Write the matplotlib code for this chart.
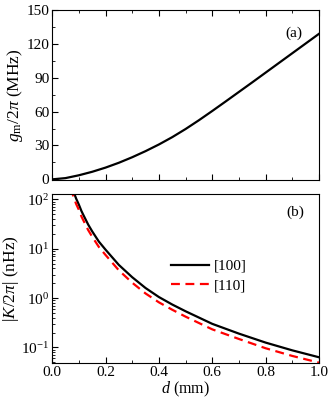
import matplotlib
matplotlib.use("Agg")
import matplotlib.pyplot as plt
from matplotlib.ticker import MultipleLocator, LogLocator, NullFormatter, FormatStrFormatter

plt.rcParams['font.family'] = ['Liberation Serif', 'DejaVu Serif']
plt.rcParams['mathtext.fontset'] = 'custom'
plt.rcParams['mathtext.rm'] = 'Liberation Serif'
plt.rcParams['mathtext.it'] = 'Liberation Serif:italic'
plt.rcParams['mathtext.bf'] = 'Liberation Serif:bold'

# Panel (a): g_m/2pi vs d
d_a = [0.0, 0.05, 0.1, 0.15, 0.2, 0.25, 0.3, 0.35, 0.4, 0.45, 0.5,
       0.55, 0.6, 0.65, 0.7, 0.75, 0.8, 0.85, 0.9, 0.95, 1.0]
g_m = [0.0, 1.1, 3.6, 6.7, 10.4, 14.7, 19.6, 25.0, 30.9, 37.4, 44.6,
       52.4, 60.6, 69.0, 77.5, 86.0, 94.6, 103.2, 111.8, 120.4, 129.0]

# Panel (b): |K/2pi| vs d
d_b = [0.07, 0.08, 0.09, 0.1, 0.11, 0.12, 0.135, 0.15, 0.175, 0.2, 0.25, 0.3,
       0.35, 0.4, 0.45, 0.5, 0.6, 0.7, 0.8, 0.9, 1.0]
K_100 = [220.0, 145.0, 104.0, 79.0, 58.0, 45.0, 31.0, 22.6, 14.0, 9.6, 4.7, 2.65,
         1.6, 1.05, 0.74, 0.54, 0.30, 0.19, 0.125, 0.087, 0.063]
K_110 = [172.0, 113.0, 81.0, 62.0, 45.0, 35.0, 24.0, 17.6, 10.9, 7.5, 3.65, 2.05,
         1.24, 0.82, 0.58, 0.42, 0.232, 0.148, 0.096, 0.067, 0.049]
labels = ['[100]', '[110]']

fs = 11
fig = plt.figure(figsize=(3.32, 4.03), dpi=100)
ax1 = fig.add_axes([0.157, 0.553, 0.804, 0.422])
ax2 = fig.add_axes([0.157, 0.099, 0.804, 0.420])

ax1.plot(d_a, g_m, color='black', lw=1.6)
ax1.set_xlim(0, 1.0)
ax1.set_ylim(-0.7, 150)
ax1.yaxis.set_major_locator(MultipleLocator(30))
ax1.yaxis.set_minor_locator(MultipleLocator(15))
ax1.xaxis.set_major_locator(MultipleLocator(0.2))
ax1.xaxis.set_minor_locator(MultipleLocator(0.1))
ax1.tick_params(axis='both', which='both', direction='in', top=True, right=False,
                labelsize=fs, labelbottom=False, pad=2)
ax1.tick_params(which='major', length=4)
ax1.tick_params(which='minor', length=2.2)
ax1.set_ylabel(r'$g_{\rm m}$/2$\pi$ (MHz)', fontsize=12.5, labelpad=1)
ax1.text(0.906, 0.865, '(a)', transform=ax1.transAxes, fontsize=fs,
         ha='center', va='center')

ax2.plot(d_b, K_100, color='black', lw=1.6, label=labels[0])
ax2.plot(d_b, K_110, color='red', lw=1.6, ls=(0, (4, 2.5)), label=labels[1])
ax2.set_yscale('log')
ax2.set_xlim(0, 1.0)
ax2.set_ylim(0.048, 130)
ax2.xaxis.set_major_locator(MultipleLocator(0.2))
ax2.xaxis.set_minor_locator(MultipleLocator(0.1))
ax2.yaxis.set_major_locator(LogLocator(base=10, numticks=10))
ax2.yaxis.set_minor_locator(LogLocator(base=10, subs=range(2, 10), numticks=20))
ax2.yaxis.set_minor_formatter(NullFormatter())
ax2.xaxis.set_major_formatter(FormatStrFormatter('%.1f'))
ax2.tick_params(axis='both', which='both', direction='in', top=False, right=False,
                labelsize=fs, pad=2)
ax2.tick_params(which='major', length=4)
ax2.tick_params(which='minor', length=2.2)
ax2.set_ylabel(r'|$K$/2$\pi$| (nHz)', fontsize=12.5, labelpad=0)
ax2.set_xlabel(r'$d$ (mm)', fontsize=fs + 0.5, labelpad=1)
ax2.text(0.91, 0.893, '(b)', transform=ax2.transAxes, fontsize=fs,
         ha='center', va='center')
ax2.legend(loc='center left', bbox_to_anchor=(0.446, 0.515), frameon=False,
           fontsize=fs, handlelength=2.5, handletextpad=0.3,
           labelspacing=0.4, borderaxespad=0, borderpad=0)

fig.savefig('out.png', dpi=100)
